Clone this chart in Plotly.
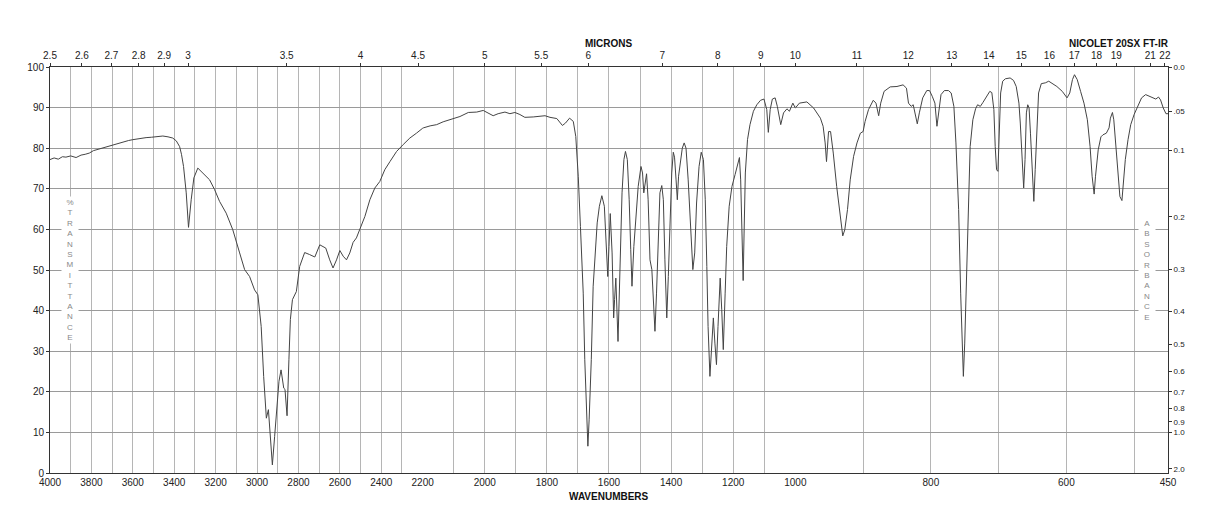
import plotly.graph_objects as go

# ---------------- data ----------------
wavenumber = [
    4000, 3980, 3960, 3940, 3923, 3900, 3874, 3850, 3830, 3810, 3790, 3770, 3753, 3730, 3710,
    3697, 3680, 3660, 3640, 3620, 3600, 3580, 3560, 3536, 3510, 3490, 3470, 3455, 3430, 3407,
    3390, 3374, 3365, 3355, 3342, 3331, 3318, 3305, 3286, 3262, 3229, 3205, 3181, 3149, 3117,
    3084, 3060, 3036, 3012, 2996, 2980, 2968, 2955, 2945, 2936, 2926, 2915, 2904, 2894, 2884,
    2871, 2865, 2855, 2846, 2839, 2829, 2810, 2794, 2770, 2746, 2721, 2697, 2680, 2668, 2649,
    2633, 2616, 2600, 2584, 2568, 2552, 2536, 2520, 2504, 2479, 2455, 2431, 2407, 2383, 2358,
    2326, 2294, 2262, 2230, 2198,
    2176, 2155, 2134, 2107, 2080, 2053, 2026, 2005, 1989, 1973, 1957, 1935, 1919, 1903, 1887,
    1871, 1844, 1806, 1790, 1768, 1750, 1740, 1727, 1715, 1707, 1699, 1692, 1683, 1678, 1672,
    1668, 1664, 1657, 1651, 1645, 1638, 1631, 1623, 1615, 1610, 1604, 1600, 1596, 1590, 1585,
    1582, 1578, 1571, 1565, 1558, 1552, 1547, 1541, 1535, 1530, 1526, 1520, 1513, 1506, 1497,
    1492, 1488, 1483, 1479, 1474, 1468, 1462, 1458, 1452, 1447, 1441, 1436, 1430, 1425, 1420,
    1414, 1409, 1404, 1398, 1393, 1389, 1384, 1380, 1376, 1369, 1364, 1358, 1352, 1345, 1337,
    1330, 1324, 1318, 1310, 1303, 1296, 1290, 1285, 1281, 1275, 1269, 1264, 1259, 1254, 1249,
    1242, 1237, 1232, 1226, 1221, 1213, 1204, 1194, 1186, 1180, 1176, 1172, 1168, 1165, 1161,
    1154, 1146, 1135, 1124, 1112, 1101, 1092, 1087, 1081, 1074, 1065, 1058, 1047, 1038, 1027,
    1019, 1008, 1000,
    994, 983, 973, 963, 959, 956, 954, 951, 948, 944, 939, 934, 930, 927, 923,
    919, 914, 909, 904, 900, 897, 892, 885, 881, 877, 874, 869, 860, 850, 841,
    836, 833, 829, 826, 824, 820, 817, 812, 806, 802, 798, 794, 791, 788, 785,
    780, 774, 770, 766, 763, 759, 756, 753, 752, 750, 747, 744, 742, 738, 734,
    731, 727, 723, 717, 713, 710, 707, 705, 703, 701, 699, 697, 694, 690, 683,
    678, 674, 670, 668, 665, 663, 661, 659, 657, 655, 653, 650, 648, 646, 643,
    641, 637, 631, 626, 621, 614, 606, 599, 595, 591, 588, 584, 579, 574, 569,
    565, 562, 559, 557, 553, 549, 546, 541, 537, 535, 532, 530, 527, 524, 521,
    518, 516, 513, 509, 505, 500, 495, 489, 483, 478, 473, 468, 464, 461, 457,
    453, 450,
]
transmittance = [
    77.2, 77.6, 77.3, 77.9, 77.8, 78.1, 77.7, 78.3, 78.5, 78.8, 79.4, 79.7, 80.0, 80.4, 80.6,
    80.9, 81.0, 81.4, 81.6, 81.9, 82.1, 82.3, 82.4, 82.6, 82.7, 82.8, 82.9, 83.0, 82.8, 82.5,
    81.8, 80.4, 78.5, 75.5, 69.0, 60.5, 67.3, 72.7, 75.1, 73.9, 72.2, 69.8, 66.9, 64.0, 59.9,
    54.2, 50.1, 48.4, 45.1, 43.9, 36.1, 23.8, 13.5, 15.6, 9.0, 2.0, 9.0, 15.6, 22.6, 25.4,
    20.9, 20.6, 14.1, 27.9, 37.8, 42.7, 44.7, 50.9, 54.3, 53.8, 53.2, 56.2, 55.8, 55.4, 52.5,
    50.5, 52.5, 54.8, 53.4, 52.5, 54.2, 56.8, 57.9, 59.9, 63.2, 67.3, 70.2, 71.8, 74.7, 76.7,
    79.2, 80.9, 82.5, 83.7, 85.0,
    85.5, 85.8, 86.5, 87.2, 87.8, 88.8, 88.9, 89.3, 88.7, 88.0, 88.5, 88.9, 88.5, 88.8, 88.3,
    87.6, 87.7, 88.0, 87.6, 87.3, 85.6, 86.2, 87.4, 86.6, 82.9, 73.1, 60.7, 44.3, 27.9, 13.1,
    6.6, 13.1, 27.9, 46.0, 54.2, 61.6, 65.7, 68.3, 65.7, 55.8, 48.4, 55.8, 63.9, 54.2, 38.2,
    42.7, 48.0, 32.4, 52.5, 69.0, 77.2, 79.2, 77.2, 67.3, 55.0, 46.0, 55.8, 64.0, 70.6, 75.5,
    73.9, 69.0, 72.2, 73.7, 67.3, 52.5, 50.1, 44.3, 34.9, 44.3, 60.7, 69.0, 70.8, 67.3, 52.5,
    38.2, 48.4, 63.2, 73.9, 79.0, 77.8, 72.2, 67.3, 73.1, 77.2, 80.0, 81.3, 80.0, 72.2, 60.7,
    50.1, 54.2, 66.5, 75.5, 79.0, 77.2, 67.3, 50.9, 36.1, 23.8, 33.6, 38.2, 32.0, 26.7, 36.1,
    48.0, 40.2, 30.4, 44.3, 55.8, 65.7, 70.6, 73.5, 76.4, 77.7, 72.2, 59.1, 47.4, 59.1, 73.9,
    82.1, 85.8, 89.1, 90.7, 91.8, 92.1, 89.5, 83.9, 89.5, 92.1, 92.4, 90.3, 85.8, 88.7, 89.7,
    89.1, 91.1, 89.9,
    91.1, 91.4, 89.9, 87.4, 85.4, 81.3, 76.7, 84.1, 84.1, 78.8, 70.6, 63.2, 58.4, 59.9, 64.9,
    72.2, 78.0, 81.3, 83.7, 84.1, 86.6, 89.5, 91.8, 91.1, 88.0, 91.1, 94.0, 95.1, 95.2, 95.6,
    94.8, 91.1, 90.3, 90.7, 89.1, 86.0, 88.7, 92.4, 94.2, 94.2, 92.8, 91.1, 85.4, 88.7, 93.2,
    94.2, 94.2, 93.6, 90.3, 81.3, 64.9, 44.3, 30.4, 23.8, 32.0, 52.5, 69.0, 80.4, 87.0, 89.7,
    90.7, 90.3, 91.3, 92.9, 94.0, 93.7, 89.5, 80.4, 74.7, 74.3, 85.4, 93.6, 96.5, 97.1, 97.3,
    96.7, 95.2, 91.1, 86.2, 77.2, 70.2, 77.2, 88.7, 90.7, 89.9, 83.7, 73.9, 66.9, 74.7, 87.0,
    93.6, 95.9, 96.1, 96.5, 95.9, 95.2, 94.0, 92.4, 93.6, 96.9, 98.1, 96.9, 94.0, 91.1, 87.0,
    80.4, 73.1, 68.7, 73.1, 79.6, 82.8, 83.3, 83.7, 85.0, 87.4, 88.8, 87.0, 80.4, 73.1, 68.1,
    67.1, 70.6, 77.2, 82.1, 85.8, 88.3, 90.3, 92.4, 93.2, 92.8, 92.5, 92.1, 92.6, 91.9, 89.9,
    88.5, 88.5,
]

# x-axis is drawn in three linear sections (scale changes at 2200 and 1000 cm-1)
segments = [(4000, 2200), (2200, 1000), (1000, 450)]
grid_lines = [list(range(4000, 2199, -100)), list(range(2100, 999, -100)), [900, 800, 700, 600, 500, 450]]
wavenumber_labels = [4000, 3800, 3600, 3400, 3200, 3000, 2800, 2600, 2400, 2200,
                     2000, 1800, 1600, 1400, 1200, 1000, 800, 600, 450]
micron_labels = [[2.5, 2.6, 2.7, 2.8, 2.9, 3, 3.5, 4, 4.5],
                 [5, 5.5, 6, 7, 8, 9, 10],
                 [11, 12, 13, 14, 15, 16, 17, 18, 19, 21, 22]]
percent_ticks = list(range(0, 101, 10))
absorbance_ticks = [0.0, 0.05, 0.1, 0.2, 0.3, 0.4, 0.5, 0.6, 0.7, 0.8, 0.9, 1.0, 2.0]
absorbance_text = ["0.0", ".05", "0.1", "0.2", "0.3", "0.4", "0.5", "0.6", "0.7", "0.8", "0.9", "1.0", "2.0"]

FONT = "Liberation Sans, Arial, Helvetica, sans-serif"
LINE = "#333333"
XGRID = "#b5b5b5"
YGRID = "#9a9a9a"

fig = go.Figure()

n = len(wavenumber)
for i, (hi, lo) in enumerate(segments):
    idx = [k for k in range(n) if lo <= wavenumber[k] <= hi]
    s = max(idx[0] - 1, 0)
    e = min(idx[-1] + 1, n - 1)
    xa = "x" if i == 0 else f"x{i + 1}"
    fig.add_trace(go.Scatter(
        x=wavenumber[s:e + 1], y=transmittance[s:e + 1], mode="lines",
        line=dict(color="#444444", width=1), xaxis=xa, yaxis="y",
        showlegend=False, hoverinfo="skip"))
    # empty traces so the micron (top) axes exist
    fig.add_trace(go.Scatter(x=[], y=[], xaxis=f"x{i + 4}", yaxis="y", showlegend=False))
fig.add_trace(go.Scatter(x=[], y=[], xaxis="x3", yaxis="y2", showlegend=False))

third = 1 / 3
for i, (hi, lo) in enumerate(segments):
    key = "xaxis" if i == 0 else f"xaxis{i + 1}"
    fig.layout[key] = dict(
        domain=[i * third, (i + 1) * third], range=[hi, lo], anchor="y",
        showline=True, linecolor=LINE, linewidth=1,
        showgrid=True, gridcolor=XGRID, gridwidth=1, zeroline=False,
        tickmode="array", tickvals=grid_lines[i],
        ticktext=[str(v) if v in wavenumber_labels else "" for v in grid_lines[i]],
        ticks="", tickfont=dict(family=FONT, size=10, color="#222"))
    top_vals = [10000 / m for m in micron_labels[i]]
    fig.layout[f"xaxis{i + 4}"] = dict(
        overlaying="x" if i == 0 else f"x{i + 1}", side="top", anchor="y",
        range=[hi, lo], showline=True, linecolor=LINE, linewidth=1,
        showgrid=False, zeroline=False, tickmode="array", tickvals=top_vals,
        ticktext=[f"{m:g}" for m in micron_labels[i]],
        ticks="outside", ticklen=3, tickcolor=LINE,
        tickfont=dict(family=FONT, size=10, color="#222"))

fig.update_layout(
    width=1218, height=528,
    margin=dict(l=50, r=50, t=67, b=55),
    paper_bgcolor="white", plot_bgcolor="white",
    yaxis=dict(domain=[0, 1], range=[0, 100], anchor="x", side="left",
               showline=True, linecolor=LINE, linewidth=1,
               showgrid=True, gridcolor=YGRID, gridwidth=1, zeroline=False,
               tickmode="array", tickvals=percent_ticks,
               ticks="outside", ticklen=3, tickcolor=LINE,
               tickfont=dict(family=FONT, size=10, color="#222")),
    yaxis2=dict(overlaying="y", side="right", anchor="x3", range=[0, 100],
                showline=True, linecolor=LINE, linewidth=1,
                showgrid=False, zeroline=False, tickmode="array",
                tickvals=[100 * 10 ** (-a) for a in absorbance_ticks],
                ticktext=absorbance_text,
                ticks="outside", ticklen=3, tickcolor=LINE,
                tickfont=dict(family=FONT, size=8, color="#222")),
    showlegend=False,
)

fig.add_annotation(text="<b>MICRONS</b>", xref="paper", yref="paper", x=0.5, y=1.057,
                   xanchor="center", yanchor="middle",
                   showarrow=False, font=dict(family=FONT, size=10, color="#111"))
fig.add_annotation(text="<b>NICOLET 20SX FT-IR</b>", xref="paper", yref="paper", x=1.003, y=1.057,
                   xanchor="right", yanchor="middle",
                   showarrow=False, font=dict(family=FONT, size=10, color="#111"))
fig.add_annotation(text="<b>WAVENUMBERS</b>", xref="paper", yref="paper", x=0.5, y=-0.057,
                   xanchor="center", yanchor="middle",
                   showarrow=False, font=dict(family=FONT, size=10, color="#111"))
fig.add_annotation(text="<br>".join("%TRANSMITTANCE"), xref="paper", yref="paper",
                   x=0.0183, y=0.5, xanchor="center", yanchor="middle",
                   showarrow=False, bgcolor="white", width=14, borderpad=1,
                   font=dict(family=FONT, size=8, color="#888"))
fig.add_annotation(text="<br>".join("ABSORBANCE"), xref="paper", yref="paper",
                   x=0.981, y=0.5, xanchor="center", yanchor="middle",
                   showarrow=False, bgcolor="white", width=14, borderpad=1,
                   font=dict(family=FONT, size=8, color="#888"))

fig.write_html("out.html")
